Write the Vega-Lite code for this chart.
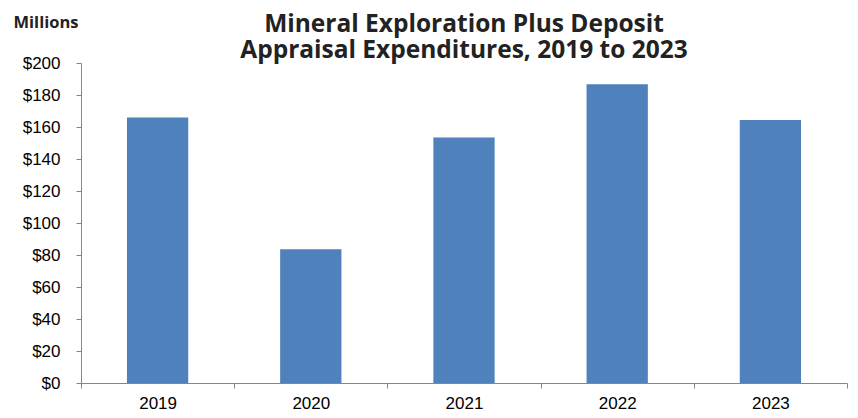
{
  "$schema": "https://vega.github.io/schema/vega-lite/v6.json",
  "autosize": "none",
  "width": 766,
  "height": 320,
  "padding": {"left": 81, "top": 63, "right": 11, "bottom": 35},
  "background": "white",
  "title": {
    "text": ["Mineral Exploration Plus Deposit", "Appraisal Expenditures, 2019 to 2023"],
    "font": "Open Sans",
    "fontSize": 24.5,
    "fontWeight": "bold",
    "color": "#222222",
    "lineHeight": 26,
    "anchor": "middle",
    "offset": 6,
    "dy": 55
  },
  "data": {
    "values": [
      {"year": "2019", "value": 166},
      {"year": "2020", "value": 83.6},
      {"year": "2021", "value": 153.5},
      {"year": "2022", "value": 186.7},
      {"year": "2023", "value": 164.4}
    ]
  },
  "mark": {"type": "bar", "color": "#4F81BD", "width": {"band": 0.4}},
  "encoding": {
    "x": {
      "field": "year",
      "type": "nominal",
      "scale": {"paddingInner": 0, "paddingOuter": 0},
      "axis": {
        "title": null,
        "labelAngle": 0,
        "tickBand": "extent",
        "tickSize": 5,
        "labelPadding": 7,
        "labelFont": "Liberation Sans",
        "labelFontSize": 17,
        "labelColor": "#000000",
        "domainColor": "#868686",
        "tickColor": "#868686",
        "grid": false
      }
    },
    "y": {
      "field": "value",
      "type": "quantitative",
      "scale": {"domain": [0, 200]},
      "axis": {
        "title": "Millions",
        "titleAngle": 0,
        "titleAlign": "left",
        "titleBaseline": "alphabetic",
        "titleX": -68,
        "titleY": -36,
        "titleFont": "Open Sans",
        "titleFontSize": 16.5,
        "titleFontWeight": "bold",
        "titleColor": "#222222",
        "values": [0, 20, 40, 60, 80, 100, 120, 140, 160, 180, 200],
        "labelExpr": "'$' + datum.value",
        "tickSize": 5,
        "labelPadding": 16,
        "labelFont": "Liberation Sans",
        "labelFontSize": 17,
        "labelColor": "#000000",
        "domainColor": "#868686",
        "tickColor": "#868686",
        "grid": false
      }
    }
  },
  "config": {"view": {"stroke": null}}
}
